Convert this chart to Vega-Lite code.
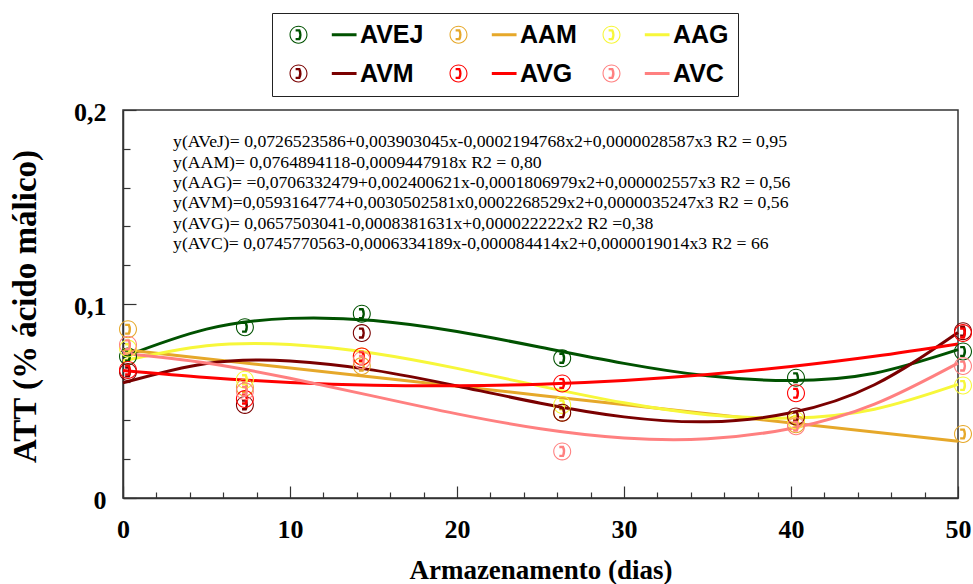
{
  "$schema": "https://vega.github.io/schema/vega-lite/v6.json",
  "width": 835,
  "height": 388,
  "autosize": {"type": "none"},
  "padding": {"left": 123, "top": 110, "right": 15, "bottom": 86},
  "background": "white",
  "config": {
    "view": {"stroke": "#333", "strokeWidth": 1.5},
    "font": "Liberation Serif"
  },
  "datasets": {
    "curvas": [
      {"serie": "AVEJ", "dia": 0, "att": 0.07265}, {"serie": "AVEJ", "dia": 5, "att": 0.08704}, {"serie": "AVEJ", "dia": 10, "att": 0.09259},
      {"serie": "AVEJ", "dia": 15, "att": 0.09146}, {"serie": "AVEJ", "dia": 20, "att": 0.08579}, {"serie": "AVEJ", "dia": 25, "att": 0.07772},
      {"serie": "AVEJ", "dia": 30, "att": 0.0694}, {"serie": "AVEJ", "dia": 35, "att": 0.06297}, {"serie": "AVEJ", "dia": 40, "att": 0.06057},
      {"serie": "AVEJ", "dia": 45, "att": 0.06435}, {"serie": "AVEJ", "dia": 50, "att": 0.07645},
      {"serie": "AAM", "dia": 0, "att": 0.07649}, {"serie": "AAM", "dia": 25, "att": 0.05287}, {"serie": "AAM", "dia": 50, "att": 0.02925},
      {"serie": "AAG", "dia": 0, "att": 0.07063}, {"serie": "AAG", "dia": 5, "att": 0.07844}, {"serie": "AAG", "dia": 10, "att": 0.07913},
      {"serie": "AAG", "dia": 15, "att": 0.07462}, {"serie": "AAG", "dia": 20, "att": 0.06682}, {"serie": "AAG", "dia": 25, "att": 0.05767},
      {"serie": "AAG", "dia": 30, "att": 0.04906}, {"serie": "AAG", "dia": 35, "att": 0.04293}, {"serie": "AAG", "dia": 40, "att": 0.04119},
      {"serie": "AAG", "dia": 45, "att": 0.04576}, {"serie": "AAG", "dia": 50, "att": 0.05854},
      {"serie": "AVM", "dia": 0, "att": 0.05932}, {"serie": "AVM", "dia": 5, "att": 0.06934}, {"serie": "AVM", "dia": 10, "att": 0.07066},
      {"serie": "AVM", "dia": 15, "att": 0.06592}, {"serie": "AVM", "dia": 20, "att": 0.05778}, {"serie": "AVM", "dia": 25, "att": 0.04886},
      {"serie": "AVM", "dia": 30, "att": 0.04182}, {"serie": "AVM", "dia": 35, "att": 0.0393}, {"serie": "AVM", "dia": 40, "att": 0.04394},
      {"serie": "AVM", "dia": 45, "att": 0.05839}, {"serie": "AVM", "dia": 50, "att": 0.08529},
      {"serie": "AVG", "dia": 0, "att": 0.06575}, {"serie": "AVG", "dia": 5, "att": 0.06212}, {"serie": "AVG", "dia": 10, "att": 0.05959},
      {"serie": "AVG", "dia": 15, "att": 0.05818}, {"serie": "AVG", "dia": 20, "att": 0.05788}, {"serie": "AVG", "dia": 25, "att": 0.05869},
      {"serie": "AVG", "dia": 30, "att": 0.06061}, {"serie": "AVG", "dia": 35, "att": 0.06364}, {"serie": "AVG", "dia": 40, "att": 0.06778},
      {"serie": "AVG", "dia": 45, "att": 0.07303}, {"serie": "AVG", "dia": 50, "att": 0.0794},
      {"serie": "AVC", "dia": 0, "att": 0.07458}, {"serie": "AVC", "dia": 5, "att": 0.06954}, {"serie": "AVC", "dia": 10, "att": 0.0617},
      {"serie": "AVC", "dia": 15, "att": 0.0525}, {"serie": "AVC", "dia": 20, "att": 0.04335}, {"serie": "AVC", "dia": 25, "att": 0.03569},
      {"serie": "AVC", "dia": 30, "att": 0.03094}, {"serie": "AVC", "dia": 35, "att": 0.03052}, {"serie": "AVC", "dia": 40, "att": 0.03587},
      {"serie": "AVC", "dia": 45, "att": 0.0484}, {"serie": "AVC", "dia": 50, "att": 0.06955}
    ],
    "pontos": [
      {"serie": "AVEJ", "dia": 0.3, "att": 0.073}, {"serie": "AVEJ", "dia": 7.3, "att": 0.088}, {"serie": "AVEJ", "dia": 14.3, "att": 0.095},
      {"serie": "AVEJ", "dia": 26.3, "att": 0.072}, {"serie": "AVEJ", "dia": 40.3, "att": 0.062}, {"serie": "AVEJ", "dia": 50.3, "att": 0.0755},
      {"serie": "AAM", "dia": 0.3, "att": 0.087}, {"serie": "AAM", "dia": 7.3, "att": 0.057}, {"serie": "AAM", "dia": 14.3, "att": 0.068},
      {"serie": "AAM", "dia": 26.3, "att": 0.044}, {"serie": "AAM", "dia": 40.3, "att": 0.038}, {"serie": "AAM", "dia": 50.3, "att": 0.033},
      {"serie": "AAG", "dia": 0.3, "att": 0.077}, {"serie": "AAG", "dia": 7.3, "att": 0.061}, {"serie": "AAG", "dia": 14.3, "att": 0.073},
      {"serie": "AAG", "dia": 26.3, "att": 0.048}, {"serie": "AAG", "dia": 40.3, "att": 0.04}, {"serie": "AAG", "dia": 50.3, "att": 0.058},
      {"serie": "AVM", "dia": 0.3, "att": 0.065}, {"serie": "AVM", "dia": 7.3, "att": 0.048}, {"serie": "AVM", "dia": 14.3, "att": 0.085},
      {"serie": "AVM", "dia": 26.3, "att": 0.044}, {"serie": "AVM", "dia": 40.3, "att": 0.042}, {"serie": "AVM", "dia": 50.3, "att": 0.086},
      {"serie": "AVG", "dia": 0.3, "att": 0.066}, {"serie": "AVG", "dia": 7.3, "att": 0.051}, {"serie": "AVG", "dia": 14.3, "att": 0.073},
      {"serie": "AVG", "dia": 26.3, "att": 0.059}, {"serie": "AVG", "dia": 40.3, "att": 0.054}, {"serie": "AVG", "dia": 50.3, "att": 0.085},
      {"serie": "AVC", "dia": 0.3, "att": 0.079}, {"serie": "AVC", "dia": 7.3, "att": 0.055}, {"serie": "AVC", "dia": 14.3, "att": 0.071},
      {"serie": "AVC", "dia": 26.3, "att": 0.024}, {"serie": "AVC", "dia": 40.3, "att": 0.037}, {"serie": "AVC", "dia": 50.3, "att": 0.068}
    ]
  },
  "layer": [
    {
      "data": {"name": "curvas"},
      "mark": {"type": "line", "interpolate": "natural", "strokeWidth": 3},
      "encoding": {
        "x": {
          "field": "dia", "type": "quantitative",
          "scale": {"domain": [0, 50], "nice": false, "zero": false},
          "axis": {
            "orient": "bottom", "values": [0, 10, 20, 30, 40, 50], "grid": false,
            "tickSize": -12, "tickWidth": 1.2, "tickColor": "#333",
            "domainColor": "#333", "domainWidth": 1.5,
            "labelFont": "Liberation Serif", "labelFontWeight": "bold", "labelFontSize": 26, "labelColor": "black",
            "labelPadding": 30, "labelFlush": false, "labelOverlap": false,
            "title": "Armazenamento (dias)", "titleFont": "Liberation Serif", "titleFontWeight": "bold",
            "titleFontSize": 27, "titleColor": "black", "titleBaseline": "alphabetic", "titleY": 80
          }
        },
        "y": {
          "field": "att", "type": "quantitative",
          "scale": {"domain": [0, 0.2], "nice": false, "zero": false},
          "axis": {
            "orient": "left", "values": [0, 0.1, 0.2], "grid": false,
            "tickSize": -13, "tickWidth": 1.2, "tickColor": "#333",
            "domainColor": "#333", "domainWidth": 1.5,
            "labelExpr": "replace(format(datum.value, '.1~f'), '.', ',')",
            "labelFont": "Liberation Serif", "labelFontWeight": "bold", "labelFontSize": 26, "labelColor": "black",
            "labelPadding": 30, "labelBaseline": "middle", "labelOffset": 2, "labelFlush": false, "labelOverlap": false,
            "title": "ATT (% ácido málico)", "titleFont": "Liberation Serif", "titleFontWeight": "bold",
            "titleFontSize": 33, "titleColor": "black", "titleAngle": -90, "titleAlign": "center",
            "titleBaseline": "middle", "titleX": -98, "titleY": 196
          }
        },
        "color": {
          "field": "serie", "type": "nominal",
          "scale": {"domain": ["AVEJ", "AAM", "AAG", "AVM", "AVG", "AVC"],
                    "range": ["#005200", "#E6A82A", "#F7F73A", "#7A0000", "#FF0000", "#FF8080"]},
          "legend": null
        }
      }
    },
    {
      "data": {"name": "pontos"},
      "mark": {
        "type": "point", "filled": true, "opacity": 1, "strokeWidth": 0, "size": 324,
        "shape": "M 1 0 A 1 1 0 1 1 -1 0 A 1 1 0 1 1 1 0 Z M 0.88 0 A 0.88 0.88 0 1 0 -0.88 0 A 0.88 0.88 0 1 0 0.88 0 Z M -0.32 -0.62 L 0.18 -0.62 Q 0.5 0 0.18 0.62 L -0.32 0.62 L -0.32 0.36 L 0.0 0.36 Q 0.16 0 0.0 -0.36 L -0.32 -0.36 Z"
      },
      "encoding": {
        "x": {
          "field": "dia", "type": "quantitative",
          "scale": {"domain": [0, 50], "nice": false, "zero": false},
          "axis": {
            "orient": "bottom", "values": [2, 4, 6, 8, 12, 14, 16, 18, 22, 24, 26, 28, 32, 34, 36, 38, 42, 44, 46, 48],
            "grid": false, "domain": false, "labels": false, "title": null,
            "tickSize": -6, "tickWidth": 1.2, "tickColor": "#333"
          }
        },
        "y": {
          "field": "att", "type": "quantitative",
          "scale": {"domain": [0, 0.2], "nice": false, "zero": false},
          "axis": {
            "orient": "left", "values": [0.02, 0.04, 0.06, 0.08, 0.12, 0.14, 0.16, 0.18],
            "grid": false, "domain": false, "labels": false, "title": null,
            "tickSize": -7, "tickWidth": 1.2, "tickColor": "#333"
          }
        },
        "color": {
          "field": "serie", "type": "nominal",
          "scale": {"domain": ["AVEJ", "AAM", "AAG", "AVM", "AVG", "AVC"],
                    "range": ["#005200", "#E6A82A", "#F7F73A", "#7A0000", "#FF0000", "#FF8080"]},
          "legend": {
            "title": null, "orient": "none", "legendX": 149, "legendY": -97,
            "direction": "horizontal", "columns": 3, "columnPadding": 17, "rowPadding": 13,
            "padding": 9, "strokeColor": "#222", "fillColor": "white",
            "symbolType": "M 1 0 A 1 1 0 1 1 -1 0 A 1 1 0 1 1 1 0 Z M 0.88 0 A 0.88 0.88 0 1 0 -0.88 0 A 0.88 0.88 0 1 0 0.88 0 Z M -0.32 -0.62 L 0.18 -0.62 Q 0.5 0 0.18 0.62 L -0.32 0.62 L -0.32 0.36 L 0.0 0.36 Q 0.16 0 0.0 -0.36 L -0.32 -0.36 Z M 3.7 -0.17 L 6.45 -0.17 L 6.45 0.17 L 3.7 0.17 Z",
            "symbolSize": 324, "symbolStrokeWidth": 0, "symbolOffset": 5,
            "labelOffset": 49, "labelFont": "Liberation Sans", "labelFontWeight": "bold",
            "labelFontSize": 25, "labelColor": "black", "labelBaseline": "middle",
            "encode": {"legend": {"update": {"strokeWidth": {"value": 1.5}}}}
          }
        }
      }
    },
    {
      "data": {"values": [{}]},
      "mark": {
        "type": "text", "align": "left", "baseline": "alphabetic",
        "font": "Liberation Serif", "fontSize": 17.7, "lineHeight": 20.3, "color": "black"
      },
      "encoding": {
        "x": {"datum": 3, "type": "quantitative", "scale": {"domain": [0, 50], "nice": false, "zero": false}, "axis": null},
        "y": {"datum": 0.1807, "type": "quantitative", "scale": {"domain": [0, 0.2], "nice": false, "zero": false}, "axis": null},
        "text": {"value": [
          "y(AVeJ)= 0,0726523586+0,003903045x-0,0002194768x2+0,0000028587x3 R2 = 0,95",
          "y(AAM)= 0,0764894118-0,0009447918x R2 = 0,80",
          "y(AAG)= =0,0706332479+0,002400621x-0,0001806979x2+0,000002557x3 R2 = 0,56",
          "y(AVM)=0,0593164774+0,0030502581x0,0002268529x2+0,0000035247x3 R2 = 0,56",
          "y(AVG)= 0,0657503041-0,0008381631x+0,000022222x2 R2 =0,38",
          "y(AVC)= 0,0745770563-0,0006334189x-0,000084414x2+0,0000019014x3 R2 = 66"
        ]}
      }
    }
  ],
  "resolve": {
    "axis": {"x": "independent", "y": "independent"},
    "legend": {"color": "independent"}
  }
}
